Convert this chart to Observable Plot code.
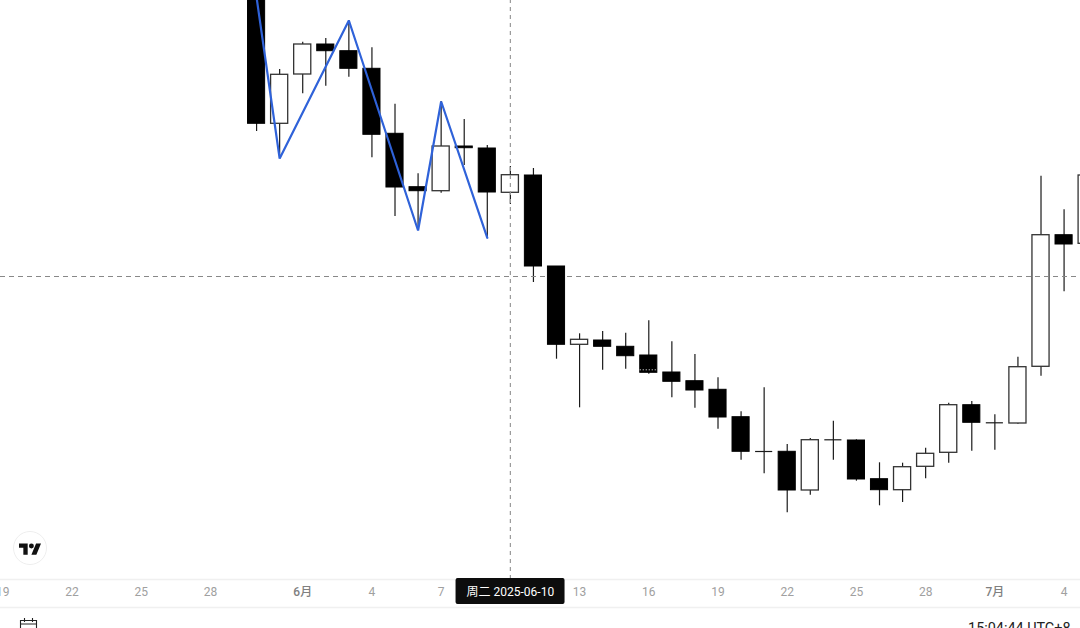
<!DOCTYPE html>
<html>
<head>
<meta charset="utf-8">
<script src="https://cdn.jsdelivr.net/npm/d3@7"></script>
<script src="https://cdn.jsdelivr.net/npm/@observablehq/plot@0.6"></script>
<style>
html,body{margin:0;padding:0;background:#fff;overflow:hidden;width:1080px;height:628px}
#wrap{position:relative;width:1080px;height:628px}
#wrap svg.plot{display:block}
.logo{position:absolute;left:13px;top:531px}
.cal{position:absolute;left:19px;top:616px}
</style>
</head>
<body>
<div id="wrap"></div>
<script>
const days = ["2025-05-30","2025-05-31","2025-06-01","2025-06-02","2025-06-03","2025-06-04","2025-06-05","2025-06-06","2025-06-07","2025-06-08","2025-06-09","2025-06-10","2025-06-11","2025-06-12","2025-06-13","2025-06-14","2025-06-15","2025-06-16","2025-06-17","2025-06-18","2025-06-19","2025-06-20","2025-06-21","2025-06-22","2025-06-23","2025-06-24","2025-06-25","2025-06-26","2025-06-27","2025-06-28","2025-06-29","2025-06-30","2025-07-01","2025-07-02","2025-07-03","2025-07-04","2025-07-05"];
const opens = [601,476.7,526,556,549.3,531.7,466.7,413.3,409.3,454,452,407.7,425,334,255.7,260,253.7,245,228,219.3,210.7,183.3,149,148.7,110,160.7,160,121.3,110.3,133.7,147.7,195.3,177.7,177,233.7,365.3,356.7];
const closes = [476.7,525.7,556,549.3,531.7,465.7,413,409.3,454,452.3,408,425.3,334,255.7,260.7,253.7,244.3,227.7,218.7,210,183,148.7,149,110,160.3,160.7,121,110.3,133.3,146.7,195.3,177.7,177.7,233.3,365.3,356,425];
const highs = [603,531,558.3,562,580,552.7,496.3,426.7,499,481,455,434,432,334,266.7,269,267.3,279.7,258.7,246,222.7,188.7,212.7,156,162,179.3,160.7,137.7,137.3,152.3,197.3,199,185.7,243.3,424.3,390.7,430];
const lows = [469,442,506.7,514.3,523.3,442.7,384,370,407.3,435,362.7,396,318,241.3,192.7,230.3,231.3,226.3,202.7,192.3,171.3,140.3,126.7,87.7,105.3,140.3,119.3,94.7,98,121.7,137.3,149.3,150.3,176.3,224.3,308.7,350];

const zigDays = ["2025-05-30","2025-05-31","2025-06-03","2025-06-06","2025-06-07","2025-06-09"];
const zigValues = [603,442,580,370,499,362.7];

const tickDays = ["2025-05-19","2025-05-22","2025-05-25","2025-05-28","2025-06-04","2025-06-07","2025-06-13","2025-06-16","2025-06-19","2025-06-22","2025-06-25","2025-06-28","2025-07-04"];
const tickLabels = ["19","22","25","28","4","7","13","16","19","22","25","28","4"];
const monthDays = ["2025-06-01","2025-07-01"];
const monthLabels = ["6月","7月"];

const crossDay = "2025-06-10";
const crossPrice = 324;
const crossLabel = "周二 2025-06-10";
const clockLabel = "15:04:44 UTC+8";
const dottedDay = "2025-06-16";
const dottedPrice = 230.7;

const fontStack = "Roboto, 'Noto Sans CJK SC', sans-serif";
const toDate = s => new Date(s + "T00:00:00Z");
const candles = days.map((d, i) => ({date: toDate(d), open: opens[i], close: closes[i], high: highs[i], low: lows[i]}));
const down = candles.filter(c => c.close < c.open);
const up = candles.filter(c => c.close > c.open);
const doji = candles.filter(c => c.close === c.open);
const zig = zigDays.map((d, i) => ({date: toDate(d), value: zigValues[i]}));
const half = 8.9;
const left = c => d3.utcMinute.offset(c.date, -half * 60);
const right = c => d3.utcMinute.offset(c.date, half * 60);
const labelFor = (dates, labels) => t => labels[dates.map(d => +toDate(d)).indexOf(+t)];

const chart = Plot.plot({
  width: 1080, height: 628,
  marginTop: 0, marginRight: 0, marginBottom: 49, marginLeft: 0,
  style: {fontFamily: fontStack, background: "#fff"},
  x: {type: "utc", domain: [new Date("2025-05-18T21:37:00Z"), new Date("2025-07-04T17:05:00Z")], axis: null},
  y: {domain: [21, 600], axis: null},
  marks: [
    Plot.ruleY([21, -7], {stroke: "#f0f0f0", strokeWidth: 1.5}),
    Plot.ruleX(candles, {x: "date", y1: "low", y2: "high", stroke: "#1a1a1a", strokeWidth: 1.2}),
    Plot.ruleY(doji, {x1: left, x2: right, y: "close", stroke: "#1a1a1a", strokeWidth: 1.2}),
    Plot.rect(up, {x1: left, x2: right, y1: "open", y2: "close", fill: "#fff", stroke: "#333", strokeWidth: 1.3}),
    Plot.ruleY([crossPrice], {stroke: "#888", strokeWidth: 1, strokeDasharray: "5 4"}),
    Plot.ruleX([toDate(crossDay)], {y1: 21, y2: 610, stroke: "#999", strokeWidth: 1.2, strokeDasharray: "4 4"}),
    Plot.rect(down, {x1: left, x2: right, y1: "open", y2: "close", fill: "#000", stroke: "#000", strokeWidth: 1}),
    Plot.ruleY([dottedPrice], {x1: () => d3.utcMinute.offset(toDate(dottedDay), -half * 60), x2: () => d3.utcMinute.offset(toDate(dottedDay), half * 60), stroke: "#fff", strokeWidth: 1, strokeDasharray: "1 2"}),
    Plot.line(zig, {x: "date", y: "value", stroke: "#2f62d9", strokeWidth: 2.2, strokeLinejoin: "miter"}),
    Plot.axisX({anchor: "bottom", ticks: tickDays.map(toDate), tickFormat: labelFor(tickDays, tickLabels), tickSize: 0, tickPadding: 8, fill: "#a0a0a0", fontSize: 12, lineAnchor: "top"}),
    Plot.axisX({anchor: "bottom", ticks: monthDays.map(toDate), tickFormat: labelFor(monthDays, monthLabels), tickSize: 0, tickPadding: 8, fill: "#808080", fontSize: 12, fontWeight: 500, lineAnchor: "top"}),
    Plot.rect([0], {x1: () => new Date("2025-06-07T15:30:00Z"), x2: () => new Date("2025-06-12T08:53:00Z"), y1: 22, y2: -4, fill: "#0d0d0d", rx: 2, clip: false}),
    Plot.text([crossLabel], {x: () => toDate(crossDay), y: 8, text: d => d, fill: "#fff", fontSize: 12}),
    Plot.text([clockLabel], {frameAnchor: "bottom-right", dx: -10, dy: 49, text: d => d, fill: "#222", fontSize: 14.4, lineAnchor: "middle"})
  ]
});
const wrap = document.getElementById("wrap");
wrap.appendChild(chart);
wrap.insertAdjacentHTML("beforeend",
 `<svg class="logo" width="34" height="34" viewBox="0 0 34 34"><circle cx="17" cy="17" r="16.5" fill="#fff" stroke="#eee"/><g transform="translate(6,10) scale(0.62)" fill="#111"><path d="M14 22H7V11H0V4h14v18zM28 22h-8l7.5-18h8L28 22z"/><circle cx="20" cy="8" r="4"/></g></svg>
  <svg class="cal" width="20" height="14" viewBox="0 0 20 14"><path d="M1.5 4.5h16v10h-16zM1.5 8h16M5.5 2v4M13.5 2v4" fill="none" stroke="#222" stroke-width="1.1"/></svg>`);
</script>
</body>
</html>
